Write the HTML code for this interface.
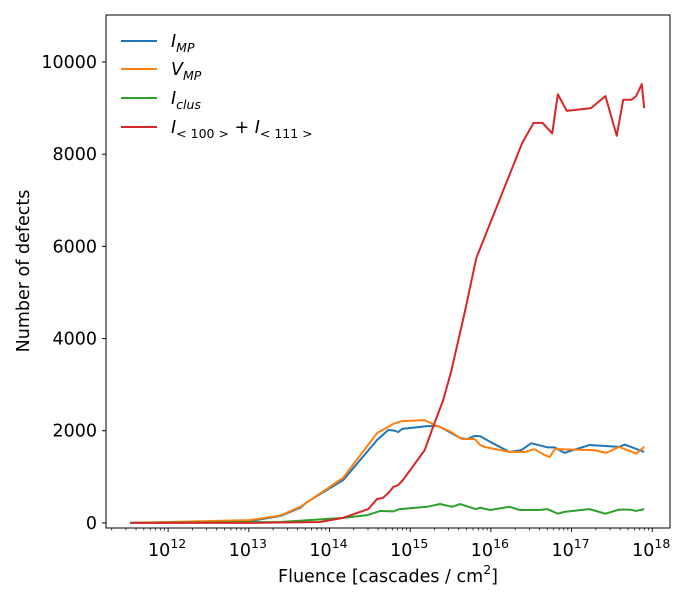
<!DOCTYPE html>
<html><head><meta charset="utf-8"><style>
body{margin:0;background:#fff;font-family:"Liberation Sans","DejaVu Sans",sans-serif}
svg text{font-family:"DejaVu Sans","Liberation Sans",sans-serif}
</style></head><body>
<svg id="c" width="700" height="600"></svg>
<script>
const lgRed=[11.53,13.01,13.88,14.17,14.48,14.59,14.66,14.73,14.79,14.85,14.91,15.18,15.27,15.41,15.51,15.68,15.82,16.39,16.53,16.64,16.76,16.83,16.94,17.24,17.42,17.56,17.64,17.74,17.8,17.87,17.9];
const valRed=[0,0,20,110,300,520,540,650,780,820,930,1580,2020,2670,3300,4600,5750,8250,8680,8680,8450,9300,8940,9000,9260,8400,9180,9180,9260,9520,9000];
const lgBlue=[11.53,13.01,13.39,13.64,13.72,14.17,14.59,14.73,14.81,14.85,14.9,15.21,15.35,15.49,15.62,15.71,15.8,15.87,15.99,16.23,16.38,16.5,16.7,16.79,16.91,17.22,17.59,17.66,17.9];
const valBlue=[0,40,150,330,450,930,1800,2020,2000,1970,2040,2100,2100,1970,1840,1820,1890,1880,1760,1540,1580,1730,1640,1640,1520,1690,1650,1700,1540];
const lgOrange=[11.53,13.01,13.39,13.64,14.17,14.59,14.79,14.9,15.18,15.31,15.49,15.64,15.8,15.87,15.92,16.23,16.42,16.54,16.67,16.73,16.79,17.28,17.43,17.59,17.66,17.78,17.8,17.9];
const valOrange=[0,60,160,350,980,1950,2150,2210,2230,2120,1990,1820,1820,1690,1650,1540,1540,1600,1470,1430,1600,1580,1520,1650,1600,1520,1500,1650];
const lgGreen=[11.53,13.39,14.17,14.47,14.63,14.79,14.87,15.21,15.37,15.52,15.62,15.81,15.87,15.99,16.23,16.36,16.6,16.7,16.83,16.91,17.22,17.42,17.59,17.72,17.8,17.9];
const valGreen=[0,20,110,170,260,250,300,350,410,350,410,300,330,280,350,280,280,300,200,240,300,200,290,290,260,300];
const yTicks=[0,2000,4000,6000,8000,10000];
const xTicks=[12,13,14,15,16,17,18];
const L=106,R=670,T=15,B=528,x0=11.23,x1=18.22,y0=-110,y1=11020;
const X=v=>L+(v-x0)/(x1-x0)*(R-L), Y=v=>B-(v-y0)/(y1-y0)*(B-T);
const s=document.getElementById('c'),NS='http://www.w3.org/2000/svg';
function el(t,a,p){const e=document.createElementNS(NS,t);for(const k in a)e.setAttribute(k,a[k]);(p||s).appendChild(e);return e;}
const frame=el('rect',{x:L,y:T,width:R-L,height:B-T,fill:'none',stroke:'#000','stroke-width':1});


yTicks.forEach(v=>{const y=Y(v);
 el('line',{x1:L-4,x2:L,y1:y,y2:y,stroke:'#000'});
 const t=el('text',{x:L-9,y:y+6,'text-anchor':'end','font-size':17.5});t.textContent=v;
 
 });
for(let d=11;d<=18;d++)for(let m=1;m<10;m++){const lv=d+Math.log10(m);if(lv<x0||lv>x1)continue;
 el('line',{x1:X(lv),x2:X(lv),y1:B,y2:B+(m==1?4:2.5),stroke:'#000','stroke-width':m==1?0.9:0.7});}
xTicks.forEach(v=>{const t=el('text',{x:X(v)-1,y:B+28,'text-anchor':'middle','font-size':17.5});
 
 
 t.innerHTML='10<tspan dy="-8" font-size="12.5">'+v+'</tspan>';});
const xl=el('text',{x:388,y:582,'text-anchor':'middle','font-size':17.5});


xl.innerHTML='Fluence [cascades / cm<tspan dy="-8" font-size="12.5">2</tspan><tspan dy="8">]</tspan>';
const yl=el('text',{x:29,y:271,'text-anchor':'middle','font-size':17.5,transform:'rotate(-90 29 271)'});


yl.textContent='Number of defects';
function line(lg,val,c,n){const p=el('polyline',{points:lg.map((v,i)=>X(v)+','+Y(val[i])).join(' '),fill:'none',stroke:c,'stroke-width':2,'stroke-linejoin':'round'});
 
 }
line(lgBlue,valBlue,'#1f77b4','series-i-mp');
line(lgOrange,valOrange,'#ff7f0e','series-v-mp');
line(lgGreen,valGreen,'#2ca02c','series-i-clus');
line(lgRed,valRed,'#d62728','series-i-100-111');
const leg=[['#1f77b4','<tspan font-style="italic">I</tspan><tspan dy="5" font-size="12.5" font-style="italic">MP</tspan>',41],
['#ff7f0e','<tspan font-style="italic">V</tspan><tspan dy="5" font-size="12.5" font-style="italic">MP</tspan>',69],
['#2ca02c','<tspan font-style="italic">I</tspan><tspan dy="5" font-size="12.5" font-style="italic">clus</tspan>',98],
['#d62728','<tspan font-style="italic">I</tspan><tspan dy="5" font-size="12.5">&lt; 100 &gt;</tspan><tspan dy="-5"> + </tspan><tspan font-style="italic">I</tspan><tspan dy="5" font-size="12.5">&lt; 111 &gt;</tspan>',127]];
leg.forEach(([c,h,y])=>{const g=el('g',{});
 
 
 el('line',{x1:121,x2:157,y1:y,y2:y,stroke:c,'stroke-width':2},g);
 const t=el('text',{x:171,y:y+6,'font-size':17.5},g);t.innerHTML=h;});
</script>
</body></html>
